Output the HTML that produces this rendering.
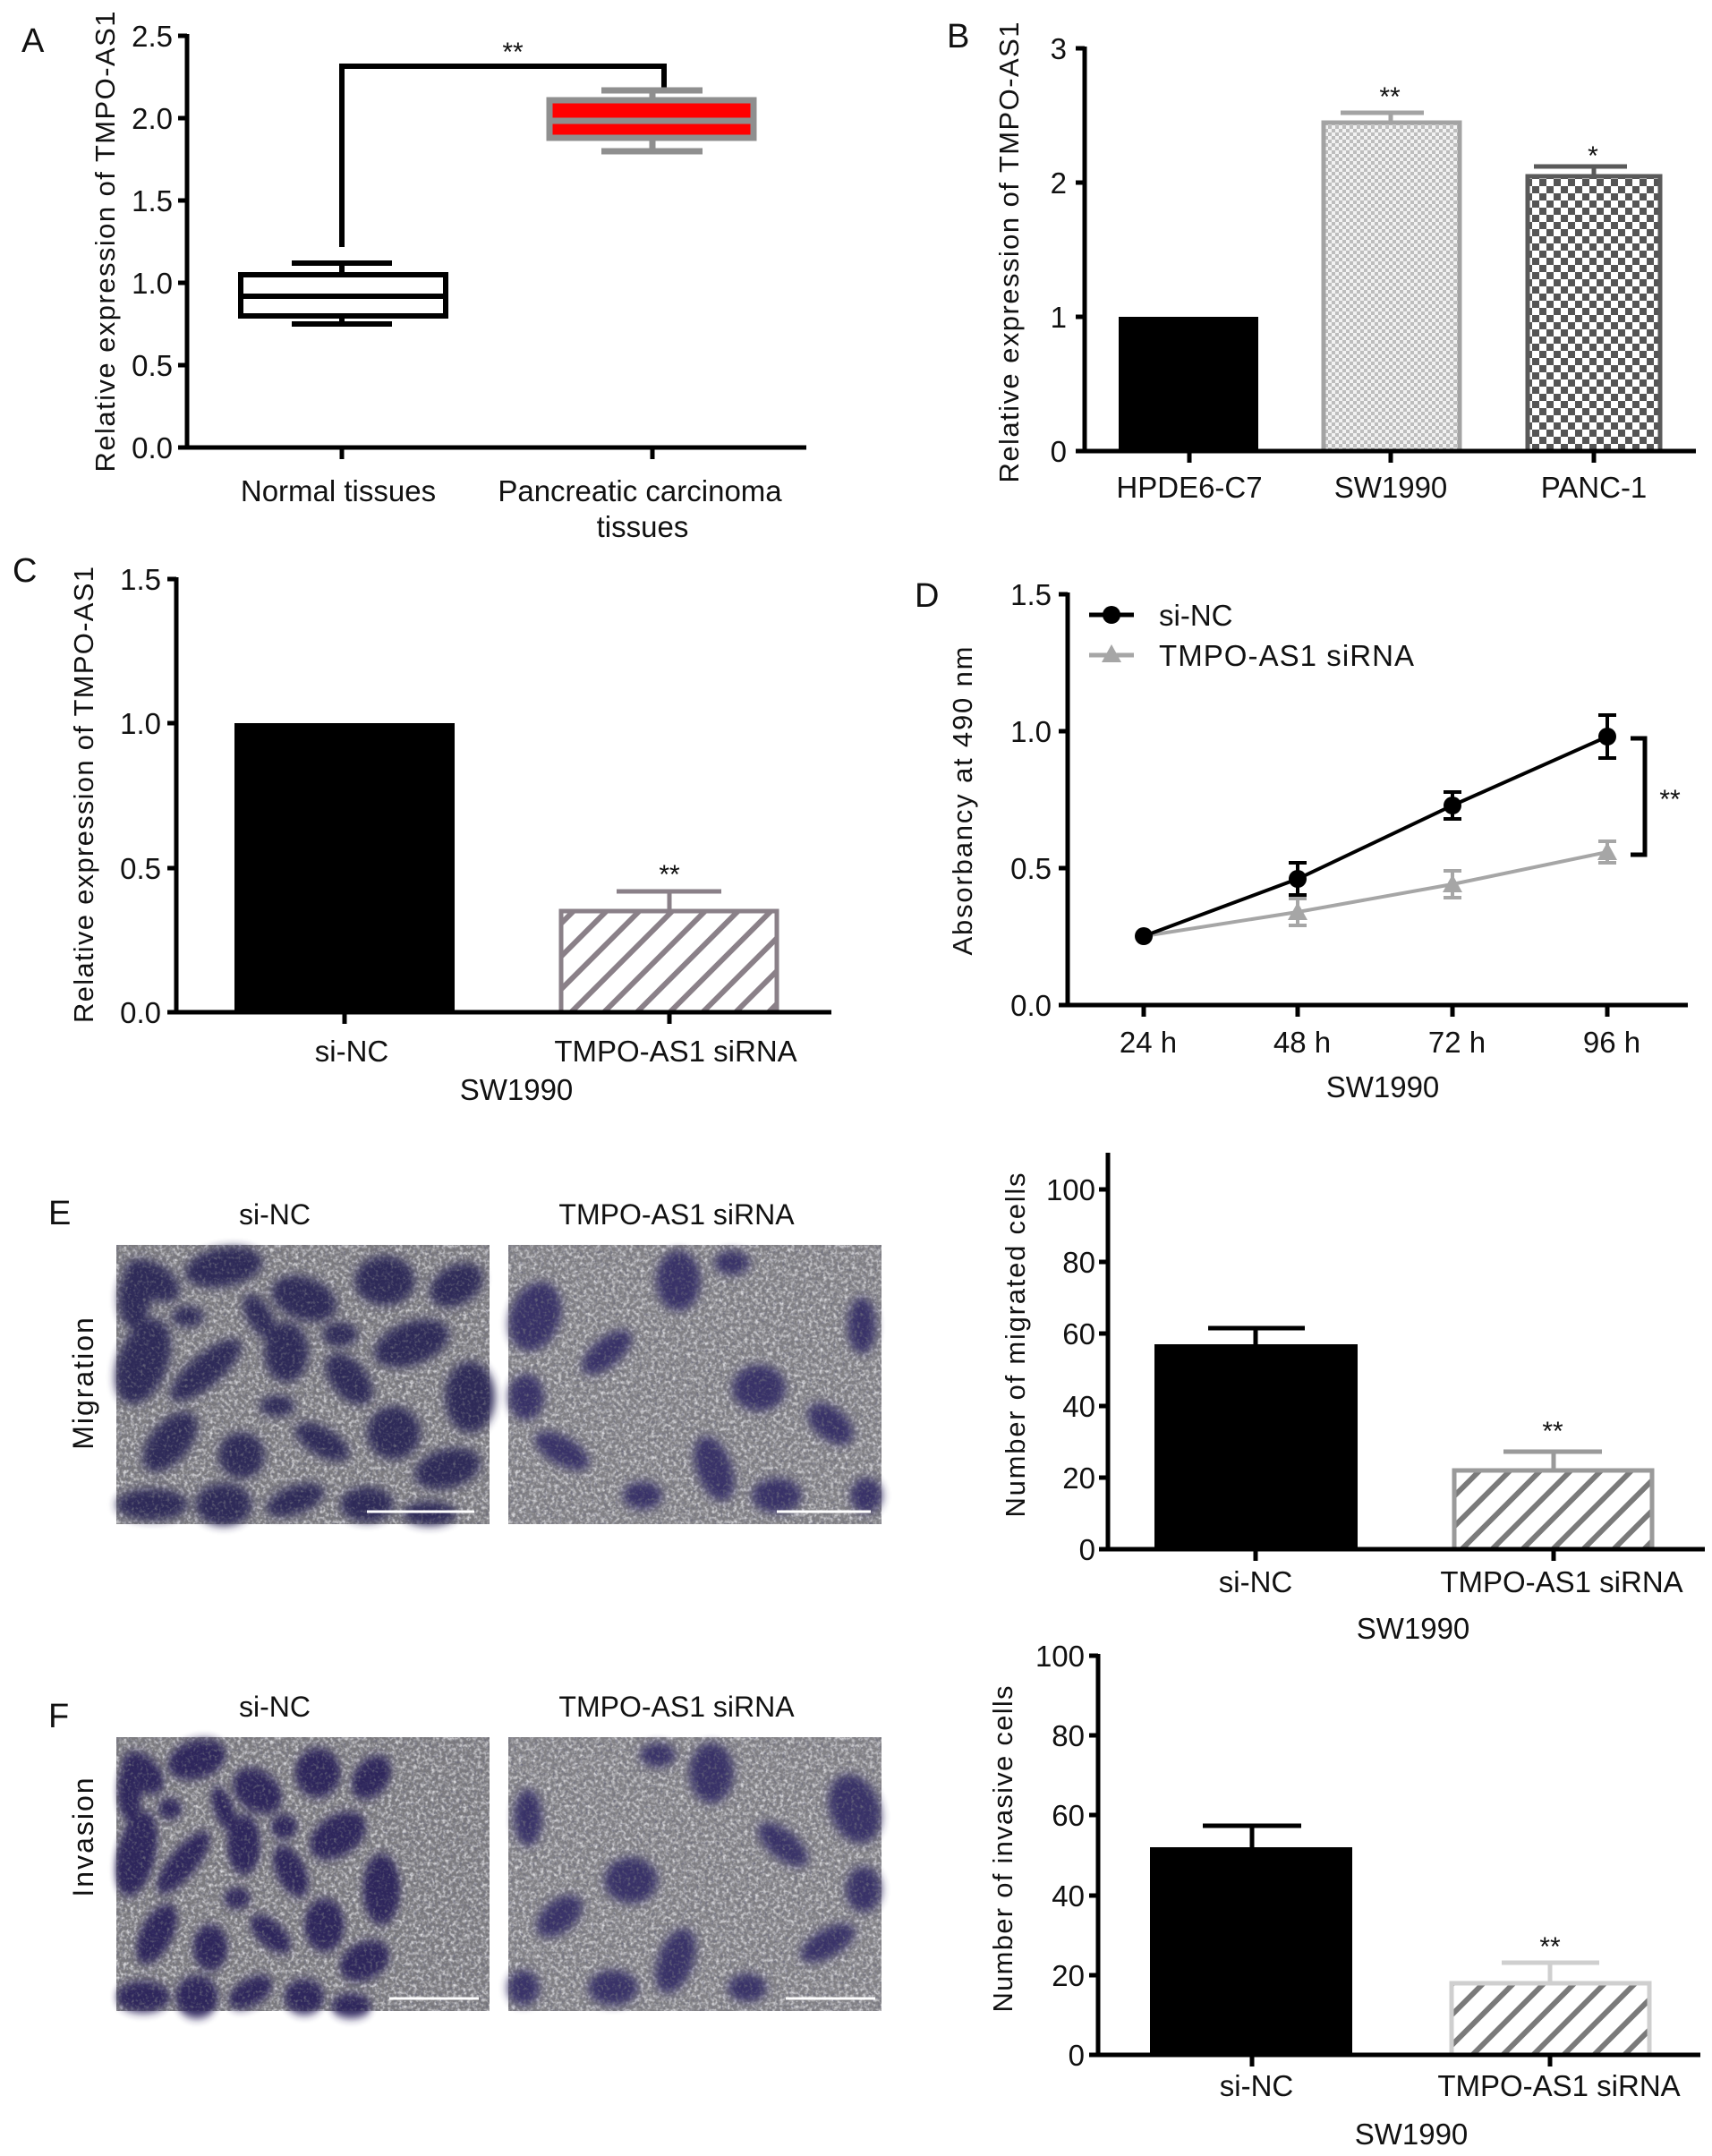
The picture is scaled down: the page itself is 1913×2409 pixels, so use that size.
<!DOCTYPE html>
<html><head><meta charset="utf-8"><style>
html,body{margin:0;padding:0;background:#fff}
svg{display:block}
text{font-family:"Liberation Sans",Arial,sans-serif;fill:#111}
</style></head><body>
<svg width="1913" height="2409" viewBox="0 0 1913 2409" xmlns="http://www.w3.org/2000/svg">
<defs>
<pattern id="fine" width="8" height="8" patternUnits="userSpaceOnUse">
<rect width="8" height="8" fill="#f2f2f2"/><rect width="4" height="4" fill="#bdbdbd"/><rect x="4" y="4" width="4" height="4" fill="#bdbdbd"/>
</pattern>
<pattern id="coarse" width="16" height="16" patternUnits="userSpaceOnUse">
<rect width="16" height="16" fill="#fff"/><rect width="8" height="8" fill="#555"/><rect x="8" y="8" width="8" height="8" fill="#555"/>
</pattern>
<pattern id="hatchC" width="26" height="26" patternUnits="userSpaceOnUse" patternTransform="rotate(45)">
<rect width="26" height="26" fill="#fff"/><rect width="6" height="26" fill="#8a8088"/>
</pattern>
<pattern id="hatchE" width="24" height="24" patternUnits="userSpaceOnUse" patternTransform="rotate(45)">
<rect width="24" height="24" fill="#fff"/><rect width="6" height="24" fill="#7a7a7a"/>
</pattern>
<filter id="noise" x="0" y="0" width="100%" height="100%">
<feTurbulence type="fractalNoise" baseFrequency="0.25" numOctaves="3" seed="3"/>
<feColorMatrix type="matrix" values="0 0 0 0 0.75  0 0 0 0 0.75  0 0 0 0 0.78  0 0 0 -2.2 1.3"/>
</filter>
<filter id="noise2" x="0" y="0" width="100%" height="100%">
<feTurbulence type="fractalNoise" baseFrequency="0.3" numOctaves="2" seed="9"/>
<feColorMatrix type="matrix" values="0 0 0 0 0.15  0 0 0 0 0.15  0 0 0 0 0.2  0 0 0 -2.4 1.2"/>
</filter>
<filter id="blur"><feGaussianBlur stdDeviation="5"/></filter>
<g id="dense">
<ellipse cx="40" cy="40" rx="34" ry="20" transform="rotate(30 40 40)"/>
<ellipse cx="120" cy="25" rx="44" ry="22" transform="rotate(-10 120 25)"/>
<ellipse cx="210" cy="60" rx="38" ry="24" transform="rotate(20 210 60)"/>
<ellipse cx="300" cy="40" rx="34" ry="28"/>
<ellipse cx="380" cy="45" rx="32" ry="22" transform="rotate(-30 380 45)"/>
<ellipse cx="30" cy="130" rx="28" ry="50" transform="rotate(20 30 130)"/>
<ellipse cx="100" cy="140" rx="50" ry="18" transform="rotate(-40 100 140)"/>
<ellipse cx="190" cy="120" rx="25" ry="34"/>
<ellipse cx="260" cy="150" rx="34" ry="20" transform="rotate(50 260 150)"/>
<ellipse cx="330" cy="110" rx="44" ry="24" transform="rotate(-20 330 110)"/>
<ellipse cx="395" cy="170" rx="28" ry="40"/>
<ellipse cx="60" cy="220" rx="40" ry="22" transform="rotate(-50 60 220)"/>
<ellipse cx="140" cy="235" rx="26" ry="26"/>
<ellipse cx="230" cy="220" rx="34" ry="16" transform="rotate(30 230 220)"/>
<ellipse cx="310" cy="210" rx="30" ry="30"/>
<ellipse cx="370" cy="250" rx="38" ry="22" transform="rotate(-15 370 250)"/>
<ellipse cx="40" cy="290" rx="40" ry="18"/>
<ellipse cx="120" cy="290" rx="32" ry="24"/>
<ellipse cx="200" cy="285" rx="34" ry="16" transform="rotate(-20 200 285)"/>
<ellipse cx="280" cy="290" rx="30" ry="20"/>
<ellipse cx="20" cy="60" rx="18" ry="34"/>
<ellipse cx="160" cy="80" rx="28" ry="14" transform="rotate(60 160 80)"/>
<ellipse cx="250" cy="100" rx="20" ry="14"/>
<ellipse cx="80" cy="80" rx="18" ry="12"/>
<ellipse cx="350" cy="300" rx="30" ry="14"/>
<ellipse cx="180" cy="180" rx="20" ry="12"/>
</g>
<g id="sparse">
<ellipse cx="30" cy="80" rx="28" ry="40" transform="rotate(20 30 80)"/>
<ellipse cx="110" cy="120" rx="34" ry="16" transform="rotate(-40 110 120)"/>
<ellipse cx="190" cy="40" rx="25" ry="34"/>
<ellipse cx="280" cy="160" rx="30" ry="26"/>
<ellipse cx="60" cy="230" rx="34" ry="16" transform="rotate(30 60 230)"/>
<ellipse cx="230" cy="250" rx="20" ry="38" transform="rotate(-20 230 250)"/>
<ellipse cx="360" cy="200" rx="30" ry="18" transform="rotate(40 360 200)"/>
<ellipse cx="300" cy="280" rx="28" ry="20"/>
<ellipse cx="150" cy="280" rx="22" ry="16"/>
<ellipse cx="395" cy="90" rx="16" ry="32"/>
<ellipse cx="20" cy="170" rx="20" ry="26"/>
<ellipse cx="250" cy="20" rx="20" ry="14"/>
<ellipse cx="400" cy="280" rx="18" ry="20"/>
</g>
</defs>

<!-- ===== Panel A ===== -->
<text x="24" y="58" font-size="38">A</text>
<text transform="translate(128,270) rotate(-90)" font-size="31" text-anchor="middle" textLength="515">Relative expression of TMPO-AS1</text>
<g stroke="#000" stroke-width="5" fill="none">
<line x1="209" y1="38" x2="209" y2="502"/><line x1="207" y1="500" x2="901" y2="500"/>
<line x1="199" y1="40" x2="209" y2="40"/><line x1="199" y1="132" x2="209" y2="132"/><line x1="199" y1="224" x2="209" y2="224"/><line x1="199" y1="316" x2="209" y2="316"/><line x1="199" y1="408" x2="209" y2="408"/><line x1="199" y1="500" x2="209" y2="500"/>
<line x1="382" y1="500" x2="382" y2="513"/><line x1="729" y1="500" x2="729" y2="513"/>
</g>
<g font-size="33" text-anchor="end"><text x="193" y="52">2.5</text><text x="193" y="144">2.0</text><text x="193" y="236">1.5</text><text x="193" y="328">1.0</text><text x="193" y="420">0.5</text><text x="193" y="512">0.0</text></g>
<g stroke="#000" stroke-width="6" fill="none">
<path d="M382 276 V74 H742 V99"/>
<rect x="269" y="307" width="229" height="46" fill="#fff"/>
<line x1="269" y1="331" x2="498" y2="331"/>
<line x1="382" y1="294" x2="382" y2="307"/><line x1="382" y1="353" x2="382" y2="362"/>
<line x1="326" y1="294" x2="438" y2="294"/><line x1="326" y1="362" x2="438" y2="362"/>
</g>
<g stroke="#8f8f8f" stroke-width="7" fill="none">
<rect x="614" y="112" width="228" height="42" fill="#ff0000"/>
<line x1="614" y1="135" x2="842" y2="135"/>
<line x1="729" y1="101" x2="729" y2="112"/><line x1="729" y1="154" x2="729" y2="169"/>
<line x1="672" y1="101" x2="785" y2="101"/><line x1="672" y1="169" x2="785" y2="169"/>
</g>
<text x="573" y="68" font-size="30" text-anchor="middle">**</text>
<g font-size="33" text-anchor="middle"><text x="378" y="560">Normal tissues</text><text x="715" y="560">Pancreatic carcinoma</text><text x="718" y="600">tissues</text></g>

<!-- ===== Panel B ===== -->
<text x="1058" y="53" font-size="38">B</text>
<text transform="translate(1138,282) rotate(-90)" font-size="31" text-anchor="middle" textLength="515">Relative expression of TMPO-AS1</text>
<rect x="1250" y="354" width="156" height="150" fill="#000"/>
<rect x="1479" y="137" width="152" height="367" fill="url(#fine)" stroke="#a3a3a3" stroke-width="5"/>
<rect x="1707" y="197" width="148" height="307" fill="url(#coarse)" stroke="#5a5a5a" stroke-width="5"/>
<g stroke="#a3a3a3" stroke-width="5"><line x1="1554" y1="126" x2="1554" y2="137"/><line x1="1498" y1="126" x2="1591" y2="126"/></g>
<g stroke="#5a5a5a" stroke-width="5"><line x1="1781" y1="186" x2="1781" y2="197"/><line x1="1714" y1="186" x2="1818" y2="186"/></g>
<g stroke="#000" stroke-width="5" fill="none">
<line x1="1212" y1="52" x2="1212" y2="506"/><line x1="1210" y1="504" x2="1895" y2="504"/>
<line x1="1202" y1="54" x2="1212" y2="54"/><line x1="1202" y1="204" x2="1212" y2="204"/><line x1="1202" y1="354" x2="1212" y2="354"/><line x1="1202" y1="504" x2="1212" y2="504"/>
<line x1="1329" y1="504" x2="1329" y2="517"/><line x1="1554" y1="504" x2="1554" y2="517"/><line x1="1781" y1="504" x2="1781" y2="517"/>
</g>
<g font-size="33" text-anchor="end"><text x="1192" y="66">3</text><text x="1192" y="216">2</text><text x="1192" y="366">1</text><text x="1192" y="516">0</text></g>
<text x="1553" y="118" font-size="30" text-anchor="middle">**</text>
<text x="1780" y="184" font-size="30" text-anchor="middle">*</text>
<g font-size="33" text-anchor="middle"><text x="1329" y="556">HPDE6-C7</text><text x="1554" y="556">SW1990</text><text x="1781" y="556">PANC-1</text></g>

<!-- ===== Panel C ===== -->
<text x="14" y="650" font-size="38">C</text>
<text transform="translate(104,888) rotate(-90)" font-size="31" text-anchor="middle" textLength="510">Relative expression of TMPO-AS1</text>
<rect x="262" y="808" width="246" height="323" fill="#000"/>
<rect x="627" y="1018" width="241" height="113" fill="url(#hatchC)" stroke="#8a8088" stroke-width="5"/>
<g stroke="#8a8088" stroke-width="5"><line x1="748" y1="996" x2="748" y2="1018"/><line x1="689" y1="996" x2="806" y2="996"/></g>
<g stroke="#000" stroke-width="5" fill="none">
<line x1="197" y1="645" x2="197" y2="1133"/><line x1="195" y1="1131" x2="929" y2="1131"/>
<line x1="187" y1="647" x2="197" y2="647"/><line x1="187" y1="808" x2="197" y2="808"/><line x1="187" y1="970" x2="197" y2="970"/><line x1="187" y1="1131" x2="197" y2="1131"/>
<line x1="385" y1="1131" x2="385" y2="1144"/><line x1="748" y1="1131" x2="748" y2="1144"/>
</g>
<g font-size="33" text-anchor="end"><text x="180" y="659">1.5</text><text x="180" y="820">1.0</text><text x="180" y="982">0.5</text><text x="180" y="1143">0.0</text></g>
<text x="748" y="987" font-size="30" text-anchor="middle">**</text>
<g font-size="33" text-anchor="middle"><text x="393" y="1186">si-NC</text><text x="755" y="1186">TMPO-AS1 siRNA</text><text x="577" y="1229">SW1990</text></g>

<!-- ===== Panel D ===== -->
<text x="1022" y="678" font-size="38">D</text>
<text transform="translate(1086,895) rotate(-90)" font-size="31" text-anchor="middle" textLength="345">Absorbancy at 490 nm</text>
<g stroke="#000" stroke-width="5" fill="none">
<line x1="1193" y1="662" x2="1193" y2="1125"/><line x1="1191" y1="1123" x2="1886" y2="1123"/>
<line x1="1183" y1="664" x2="1193" y2="664"/><line x1="1183" y1="817" x2="1193" y2="817"/><line x1="1183" y1="970" x2="1193" y2="970"/><line x1="1183" y1="1123" x2="1193" y2="1123"/>
<line x1="1278" y1="1123" x2="1278" y2="1136"/><line x1="1450" y1="1123" x2="1450" y2="1136"/><line x1="1623" y1="1123" x2="1623" y2="1136"/><line x1="1796" y1="1123" x2="1796" y2="1136"/>
</g>
<g font-size="33" text-anchor="end"><text x="1175" y="676">1.5</text><text x="1175" y="829">1.0</text><text x="1175" y="982">0.5</text><text x="1175" y="1135">0.0</text></g>
<g stroke="#a6a6a6" stroke-width="4" fill="none">
<polyline points="1278,1046 1450,1019 1623,988 1796,952"/>
<line x1="1450" y1="1004" x2="1450" y2="1034"/><line x1="1440" y1="1004" x2="1460" y2="1004"/><line x1="1440" y1="1034" x2="1460" y2="1034"/>
<line x1="1623" y1="973" x2="1623" y2="1003"/><line x1="1613" y1="973" x2="1633" y2="973"/><line x1="1613" y1="1003" x2="1633" y2="1003"/>
<line x1="1796" y1="940" x2="1796" y2="964"/><line x1="1786" y1="940" x2="1806" y2="940"/><line x1="1786" y1="964" x2="1806" y2="964"/>
</g>
<g fill="#a6a6a6"><path d="M1450,1008 l11,20 h-22z"/><path d="M1623,977 l11,20 h-22z"/><path d="M1796,941 l11,20 h-22z"/></g>
<g stroke="#000" stroke-width="4" fill="none">
<polyline points="1278,1046 1450,982 1623,900 1796,823"/>
<line x1="1450" y1="964" x2="1450" y2="1000"/><line x1="1440" y1="964" x2="1460" y2="964"/><line x1="1440" y1="1000" x2="1460" y2="1000"/>
<line x1="1623" y1="885" x2="1623" y2="915"/><line x1="1613" y1="885" x2="1633" y2="885"/><line x1="1613" y1="915" x2="1633" y2="915"/>
<line x1="1796" y1="799" x2="1796" y2="847"/><line x1="1786" y1="799" x2="1806" y2="799"/><line x1="1786" y1="847" x2="1806" y2="847"/>
</g>
<g fill="#000"><circle cx="1278" cy="1046" r="10"/><circle cx="1450" cy="982" r="10"/><circle cx="1623" cy="900" r="10"/><circle cx="1796" cy="823" r="10"/></g>
<path d="M1822 825 H1838 V955 H1822" stroke="#000" stroke-width="5" fill="none"/>
<text x="1866" y="903" font-size="30" text-anchor="middle">**</text>
<line x1="1217" y1="687" x2="1267" y2="687" stroke="#000" stroke-width="5"/><circle cx="1242" cy="687" r="10" fill="#000"/>
<line x1="1217" y1="732" x2="1267" y2="732" stroke="#a6a6a6" stroke-width="5"/><path d="M1242,720 l11,20 h-22z" fill="#a6a6a6"/>
<g font-size="33"><text x="1295" y="699">si-NC</text><text x="1295" y="744" textLength="285">TMPO-AS1 siRNA</text></g>
<g font-size="33" text-anchor="middle"><text x="1283" y="1176">24 h</text><text x="1455" y="1176">48 h</text><text x="1628" y="1176">72 h</text><text x="1801" y="1176">96 h</text><text x="1545" y="1226">SW1990</text></g>

<!-- ===== Panel E images ===== -->
<text x="54" y="1368" font-size="38">E</text>
<g font-size="32" text-anchor="middle"><text x="307" y="1368">si-NC</text><text x="756" y="1368">TMPO-AS1 siRNA</text></g>
<text transform="translate(104,1545) rotate(-90)" font-size="32" text-anchor="middle" letter-spacing="2">Migration</text>
<g transform="translate(130,1391)">
<rect width="417" height="312" fill="#7c7b7f"/>
<rect width="417" height="312" filter="url(#noise)"/>
<use href="#dense" fill="#2a2556" opacity="0.95" filter="url(#blur)"/>
<rect width="417" height="312" filter="url(#noise2)"/>
<line x1="280" y1="298" x2="400" y2="298" stroke="#fff" stroke-width="3"/>
</g>
<g transform="translate(568,1391)">
<rect width="417" height="312" fill="#828185"/>
<rect width="417" height="312" filter="url(#noise)"/>
<use href="#sparse" fill="#342d66" opacity="0.95" filter="url(#blur)"/>
<rect width="417" height="312" filter="url(#noise2)"/>
<line x1="300" y1="298" x2="405" y2="298" stroke="#fff" stroke-width="3"/>
</g>

<!-- ===== Panel E chart ===== -->
<text transform="translate(1145,1503) rotate(-90)" font-size="31" text-anchor="middle" textLength="385">Number of migrated cells</text>
<rect x="1290" y="1502" width="227" height="229" fill="#000"/>
<rect x="1625" y="1643" width="221" height="88" fill="url(#hatchE)" stroke="#9a9a9a" stroke-width="5"/>
<g stroke="#000" stroke-width="5"><line x1="1403" y1="1484" x2="1403" y2="1502"/><line x1="1350" y1="1484" x2="1458" y2="1484"/></g>
<g stroke="#9a9a9a" stroke-width="5"><line x1="1736" y1="1622" x2="1736" y2="1643"/><line x1="1680" y1="1622" x2="1790" y2="1622"/></g>
<g stroke="#000" stroke-width="5" fill="none">
<line x1="1238" y1="1288" x2="1238" y2="1733"/><line x1="1236" y1="1731" x2="1905" y2="1731"/>
<line x1="1228" y1="1329" x2="1238" y2="1329"/><line x1="1228" y1="1410" x2="1238" y2="1410"/><line x1="1228" y1="1490" x2="1238" y2="1490"/><line x1="1228" y1="1571" x2="1238" y2="1571"/><line x1="1228" y1="1651" x2="1238" y2="1651"/><line x1="1228" y1="1731" x2="1238" y2="1731"/>
<line x1="1403" y1="1731" x2="1403" y2="1744"/><line x1="1736" y1="1731" x2="1736" y2="1744"/>
</g>
<g font-size="33" text-anchor="end"><text x="1224" y="1341">100</text><text x="1224" y="1422">80</text><text x="1224" y="1502">60</text><text x="1224" y="1583">40</text><text x="1224" y="1663">20</text><text x="1224" y="1743">0</text></g>
<text x="1735" y="1609" font-size="30" text-anchor="middle">**</text>
<g font-size="33" text-anchor="middle"><text x="1403" y="1779">si-NC</text><text x="1745" y="1779">TMPO-AS1 siRNA</text><text x="1579" y="1831">SW1990</text></g>

<!-- ===== Panel F images ===== -->
<text x="54" y="1930" font-size="38">F</text>
<g font-size="32" text-anchor="middle"><text x="307" y="1918">si-NC</text><text x="756" y="1918">TMPO-AS1 siRNA</text></g>
<text transform="translate(104,2052) rotate(-90)" font-size="32" text-anchor="middle" letter-spacing="2">Invasion</text>
<g transform="translate(130,1941)">
<rect width="417" height="306" fill="#7c7b7f"/>
<rect width="417" height="306" filter="url(#noise)"/>
<use href="#dense" fill="#29245a" opacity="0.95" filter="url(#blur)" transform="scale(0.75,1)"/>
<rect width="417" height="306" filter="url(#noise2)"/>
<line x1="305" y1="292" x2="405" y2="292" stroke="#fff" stroke-width="3"/>
</g>
<g transform="translate(568,1941)">
<rect width="417" height="306" fill="#838286"/>
<rect width="417" height="306" filter="url(#noise)"/>
<use href="#sparse" fill="#352d66" opacity="0.95" filter="url(#blur)" transform="translate(417,0) scale(-1,1)"/>
<rect width="417" height="306" filter="url(#noise2)"/>
<line x1="310" y1="292" x2="410" y2="292" stroke="#fff" stroke-width="3"/>
</g>

<!-- ===== Panel F chart ===== -->
<text transform="translate(1131,2066) rotate(-90)" font-size="31" text-anchor="middle" textLength="365">Number of invasive cells</text>
<rect x="1285" y="2064" width="226" height="232" fill="#000"/>
<rect x="1622" y="2216" width="221" height="80" fill="url(#hatchE)" stroke="#cfcfcf" stroke-width="5"/>
<g stroke="#000" stroke-width="5"><line x1="1399" y1="2040" x2="1399" y2="2064"/><line x1="1344" y1="2040" x2="1454" y2="2040"/></g>
<g stroke="#cfcfcf" stroke-width="5"><line x1="1732" y1="2193" x2="1732" y2="2216"/><line x1="1678" y1="2193" x2="1787" y2="2193"/></g>
<g stroke="#000" stroke-width="5" fill="none">
<line x1="1227" y1="1848" x2="1227" y2="2298"/><line x1="1225" y1="2296" x2="1900" y2="2296"/>
<line x1="1217" y1="1850" x2="1227" y2="1850"/><line x1="1217" y1="1939" x2="1227" y2="1939"/><line x1="1217" y1="2028" x2="1227" y2="2028"/><line x1="1217" y1="2118" x2="1227" y2="2118"/><line x1="1217" y1="2207" x2="1227" y2="2207"/><line x1="1217" y1="2296" x2="1227" y2="2296"/>
<line x1="1399" y1="2296" x2="1399" y2="2309"/><line x1="1732" y1="2296" x2="1732" y2="2309"/>
</g>
<g font-size="33" text-anchor="end"><text x="1212" y="1862">100</text><text x="1212" y="1951">80</text><text x="1212" y="2040">60</text><text x="1212" y="2130">40</text><text x="1212" y="2219">20</text><text x="1212" y="2308">0</text></g>
<text x="1732" y="2185" font-size="30" text-anchor="middle">**</text>
<g font-size="33" text-anchor="middle"><text x="1404" y="2342">si-NC</text><text x="1742" y="2342">TMPO-AS1 siRNA</text><text x="1577" y="2396">SW1990</text></g>
</svg>
</body></html>
